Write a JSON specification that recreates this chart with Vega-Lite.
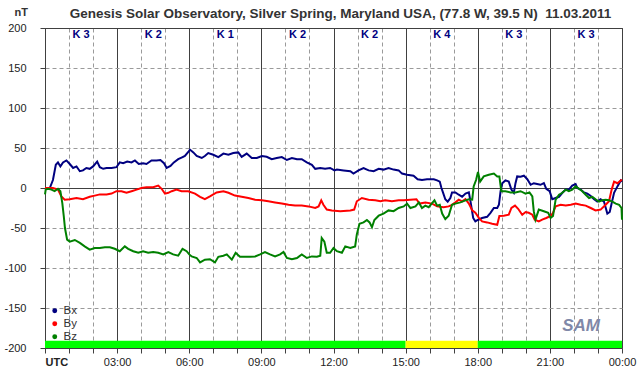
{
"$schema": "https://vega.github.io/schema/vega-lite/v6.json",
"width": 577, "height": 320,
"autosize": {"type": "none"},
"padding": {"left": 45, "top": 28, "right": 20, "bottom": 28},
"background": "white",
"config": {"view": {"stroke": "#404040", "strokeWidth": 1}, "font": "Liberation Sans",
"axisX": {"labelFontSize": 11, "labelColor": "#222222", "labelPadding": 3, "labelFlush": false, "labelOverlap": false, "labelBound": false, "grid": true, "domainColor": "#404040", "tickColor": "#404040", "tickSize": 5},
"axisY": {"labelFontSize": 11, "labelColor": "#222222", "labelPadding": 14, "labelOverlap": false, "grid": true, "domainColor": "#404040", "tickColor": "#404040", "tickSize": 5}},
"title": {"text": "Genesis Solar Observatory, Silver Spring, Maryland USA, (77.8 W, 39.5 N)\u00a0 11.03.2011", "fontSize": 13.5, "fontWeight": "bold", "color": "#333333", "anchor": "middle", "frame": "group", "offset": 9, "dy": 23, "dx": 7},
"datasets": {
"bars": [{"t": 0, "t2": 15, "k": "ok"}, {"t": 15, "t2": 18, "k": "warn"}, {"t": 18, "t2": 24, "k": "ok"}],
"klab": [{"t": 1.5, "k": "K 3"}, {"t": 4.5, "k": "K 2"}, {"t": 7.5, "k": "K 1"}, {"t": 10.5, "k": "K 2"}, {"t": 13.5, "k": "K 2"}, {"t": 16.5, "k": "K 4"}, {"t": 19.5, "k": "K 3"}, {"t": 22.5, "k": "K 3"}],
"mag": [
{"c":"Bx","t":0,"v":0},{"c":"Bx","t":0.2,"v":0},{"c":"Bx","t":0.33,"v":10},{"c":"Bx","t":0.45,"v":29},{"c":"Bx","t":0.54,"v":32},{"c":"Bx","t":0.64,"v":27},{"c":"Bx","t":0.75,"v":32},{"c":"Bx","t":0.89,"v":34.5},{"c":"Bx","t":1.03,"v":30},{"c":"Bx","t":1.17,"v":25},{"c":"Bx","t":1.31,"v":27},{"c":"Bx","t":1.45,"v":21},{"c":"Bx","t":1.58,"v":22},{"c":"Bx","t":1.72,"v":25},{"c":"Bx","t":1.86,"v":24},{"c":"Bx","t":2.0,"v":27},{"c":"Bx","t":2.17,"v":33},{"c":"Bx","t":2.28,"v":26},{"c":"Bx","t":2.42,"v":24},{"c":"Bx","t":2.56,"v":25},{"c":"Bx","t":2.77,"v":25},{"c":"Bx","t":2.97,"v":26},{"c":"Bx","t":3.11,"v":32},{"c":"Bx","t":3.25,"v":31},{"c":"Bx","t":3.42,"v":33},{"c":"Bx","t":3.6,"v":32},{"c":"Bx","t":3.74,"v":34.5},{"c":"Bx","t":3.9,"v":30},{"c":"Bx","t":4.08,"v":31},{"c":"Bx","t":4.22,"v":30},{"c":"Bx","t":4.43,"v":34.5},{"c":"Bx","t":4.64,"v":34.5},{"c":"Bx","t":4.8,"v":35},{"c":"Bx","t":4.95,"v":31},{"c":"Bx","t":5.06,"v":25},{"c":"Bx","t":5.22,"v":27.5},{"c":"Bx","t":5.36,"v":32},{"c":"Bx","t":5.54,"v":36},{"c":"Bx","t":5.68,"v":38},{"c":"Bx","t":5.82,"v":40},{"c":"Bx","t":5.96,"v":45},{"c":"Bx","t":6.03,"v":48},{"c":"Bx","t":6.17,"v":44.5},{"c":"Bx","t":6.31,"v":40},{"c":"Bx","t":6.52,"v":37.5},{"c":"Bx","t":6.65,"v":40},{"c":"Bx","t":6.79,"v":43.7},{"c":"Bx","t":7.0,"v":41.6},{"c":"Bx","t":7.21,"v":38.7},{"c":"Bx","t":7.42,"v":43},{"c":"Bx","t":7.63,"v":41.6},{"c":"Bx","t":7.83,"v":43.7},{"c":"Bx","t":8.04,"v":44.5},{"c":"Bx","t":8.18,"v":39},{"c":"Bx","t":8.39,"v":43},{"c":"Bx","t":8.6,"v":37.5},{"c":"Bx","t":8.81,"v":37.5},{"c":"Bx","t":9.02,"v":40},{"c":"Bx","t":9.22,"v":39},{"c":"Bx","t":9.43,"v":36},{"c":"Bx","t":9.64,"v":37.5},{"c":"Bx","t":9.85,"v":38.7},{"c":"Bx","t":10.06,"v":35},{"c":"Bx","t":10.27,"v":37.5},{"c":"Bx","t":10.48,"v":36},{"c":"Bx","t":10.68,"v":36},{"c":"Bx","t":10.89,"v":32},{"c":"Bx","t":11.1,"v":29},{"c":"Bx","t":11.24,"v":24},{"c":"Bx","t":11.45,"v":25},{"c":"Bx","t":11.65,"v":24},{"c":"Bx","t":11.86,"v":25},{"c":"Bx","t":12.04,"v":22},{"c":"Bx","t":12.14,"v":23},{"c":"Bx","t":12.42,"v":22},{"c":"Bx","t":12.7,"v":21},{"c":"Bx","t":12.83,"v":18},{"c":"Bx","t":13.04,"v":22},{"c":"Bx","t":13.25,"v":25},{"c":"Bx","t":13.46,"v":22},{"c":"Bx","t":13.67,"v":21},{"c":"Bx","t":13.88,"v":24},{"c":"Bx","t":14.08,"v":23},{"c":"Bx","t":14.29,"v":25},{"c":"Bx","t":14.5,"v":23},{"c":"Bx","t":14.71,"v":22},{"c":"Bx","t":14.85,"v":18},{"c":"Bx","t":15.06,"v":16.6},{"c":"Bx","t":15.33,"v":15.4},{"c":"Bx","t":15.5,"v":11},{"c":"Bx","t":15.68,"v":10},{"c":"Bx","t":15.89,"v":11},{"c":"Bx","t":16.17,"v":11},{"c":"Bx","t":16.31,"v":9.5},{"c":"Bx","t":16.42,"v":8},{"c":"Bx","t":16.49,"v":0},{"c":"Bx","t":16.56,"v":-6},{"c":"Bx","t":16.65,"v":-14},{"c":"Bx","t":16.75,"v":-17},{"c":"Bx","t":16.86,"v":-12.5},{"c":"Bx","t":16.93,"v":-5.5},{"c":"Bx","t":17.07,"v":-5.5},{"c":"Bx","t":17.21,"v":-8.4},{"c":"Bx","t":17.35,"v":-11},{"c":"Bx","t":17.49,"v":-7},{"c":"Bx","t":17.63,"v":-5.5},{"c":"Bx","t":17.7,"v":-17},{"c":"Bx","t":17.81,"v":-37.5},{"c":"Bx","t":17.9,"v":-41.7},{"c":"Bx","t":18.0,"v":-40},{"c":"Bx","t":18.18,"v":-37.5},{"c":"Bx","t":18.39,"v":-36},{"c":"Bx","t":18.53,"v":-31},{"c":"Bx","t":18.67,"v":-25},{"c":"Bx","t":18.81,"v":-25},{"c":"Bx","t":18.88,"v":-21},{"c":"Bx","t":18.95,"v":-4},{"c":"Bx","t":19.02,"v":6},{"c":"Bx","t":19.15,"v":9.5},{"c":"Bx","t":19.29,"v":8},{"c":"Bx","t":19.4,"v":-2},{"c":"Bx","t":19.5,"v":-6},{"c":"Bx","t":19.57,"v":6},{"c":"Bx","t":19.64,"v":14.5},{"c":"Bx","t":19.78,"v":14},{"c":"Bx","t":19.92,"v":15.4},{"c":"Bx","t":20.06,"v":11},{"c":"Bx","t":20.2,"v":4},{"c":"Bx","t":20.33,"v":6},{"c":"Bx","t":20.47,"v":5},{"c":"Bx","t":20.61,"v":4},{"c":"Bx","t":20.75,"v":6},{"c":"Bx","t":20.85,"v":-1},{"c":"Bx","t":20.99,"v":-4},{"c":"Bx","t":21.1,"v":-14},{"c":"Bx","t":21.24,"v":-12.5},{"c":"Bx","t":21.38,"v":-11},{"c":"Bx","t":21.52,"v":-6},{"c":"Bx","t":21.66,"v":-2},{"c":"Bx","t":21.79,"v":-2},{"c":"Bx","t":21.93,"v":3},{"c":"Bx","t":22.07,"v":5},{"c":"Bx","t":22.14,"v":0},{"c":"Bx","t":22.28,"v":-2},{"c":"Bx","t":22.42,"v":-5.5},{"c":"Bx","t":22.56,"v":-7},{"c":"Bx","t":22.7,"v":-10},{"c":"Bx","t":22.84,"v":-14},{"c":"Bx","t":22.97,"v":-17},{"c":"Bx","t":23.11,"v":-14},{"c":"Bx","t":23.25,"v":-17},{"c":"Bx","t":23.39,"v":-32},{"c":"Bx","t":23.49,"v":-30},{"c":"Bx","t":23.57,"v":-19},{"c":"Bx","t":23.67,"v":-6},{"c":"Bx","t":23.81,"v":2},{"c":"Bx","t":23.95,"v":9.5},{"c":"Bx","t":24.0,"v":8},
{"c":"By","t":0,"v":0},{"c":"By","t":0.33,"v":0},{"c":"By","t":0.54,"v":-2},{"c":"By","t":0.68,"v":-10.5},{"c":"By","t":0.82,"v":-14.6},{"c":"By","t":1.03,"v":-14},{"c":"By","t":1.31,"v":-12.5},{"c":"By","t":1.58,"v":-14},{"c":"By","t":1.86,"v":-11},{"c":"By","t":2.07,"v":-9.5},{"c":"By","t":2.28,"v":-8},{"c":"By","t":2.56,"v":-8},{"c":"By","t":2.77,"v":-7},{"c":"By","t":2.97,"v":-4},{"c":"By","t":3.18,"v":-4},{"c":"By","t":3.39,"v":-6},{"c":"By","t":3.6,"v":-4},{"c":"By","t":3.81,"v":-2},{"c":"By","t":4.01,"v":0},{"c":"By","t":4.22,"v":1},{"c":"By","t":4.5,"v":1},{"c":"By","t":4.71,"v":3},{"c":"By","t":4.85,"v":-1},{"c":"By","t":4.99,"v":-7},{"c":"By","t":5.13,"v":-6},{"c":"By","t":5.27,"v":-4},{"c":"By","t":5.47,"v":-2},{"c":"By","t":5.68,"v":-4},{"c":"By","t":5.96,"v":-4},{"c":"By","t":6.24,"v":-7},{"c":"By","t":6.45,"v":-11},{"c":"By","t":6.65,"v":-14},{"c":"By","t":6.86,"v":-10.5},{"c":"By","t":7.14,"v":-5.5},{"c":"By","t":7.42,"v":-4},{"c":"By","t":7.63,"v":-6},{"c":"By","t":7.9,"v":-9.5},{"c":"By","t":8.18,"v":-11},{"c":"By","t":8.46,"v":-12.5},{"c":"By","t":8.74,"v":-14.6},{"c":"By","t":9.02,"v":-15.4},{"c":"By","t":9.29,"v":-16.6},{"c":"By","t":9.57,"v":-18},{"c":"By","t":9.85,"v":-19.5},{"c":"By","t":10.13,"v":-21},{"c":"By","t":10.4,"v":-22},{"c":"By","t":10.68,"v":-22},{"c":"By","t":10.96,"v":-23},{"c":"By","t":11.24,"v":-25},{"c":"By","t":11.38,"v":-23},{"c":"By","t":11.49,"v":-15.4},{"c":"By","t":11.58,"v":-21},{"c":"By","t":11.72,"v":-27},{"c":"By","t":11.93,"v":-28},{"c":"By","t":12.28,"v":-29},{"c":"By","t":12.7,"v":-28},{"c":"By","t":12.86,"v":-27},{"c":"By","t":12.97,"v":-16.6},{"c":"By","t":13.18,"v":-12.5},{"c":"By","t":13.46,"v":-14.6},{"c":"By","t":13.74,"v":-15.4},{"c":"By","t":13.95,"v":-16.6},{"c":"By","t":14.15,"v":-15.4},{"c":"By","t":14.43,"v":-16.6},{"c":"By","t":14.71,"v":-15.4},{"c":"By","t":14.92,"v":-15.4},{"c":"By","t":15.2,"v":-14.6},{"c":"By","t":15.45,"v":-14},{"c":"By","t":15.58,"v":-19.5},{"c":"By","t":15.82,"v":-18},{"c":"By","t":16.1,"v":-19.5},{"c":"By","t":16.31,"v":-23},{"c":"By","t":16.58,"v":-24},{"c":"By","t":16.79,"v":-23},{"c":"By","t":16.93,"v":-21},{"c":"By","t":17.07,"v":-18},{"c":"By","t":17.21,"v":-14.6},{"c":"By","t":17.35,"v":-16.6},{"c":"By","t":17.49,"v":-14},{"c":"By","t":17.63,"v":-19.5},{"c":"By","t":17.77,"v":-28},{"c":"By","t":17.9,"v":-31},{"c":"By","t":18.04,"v":-37},{"c":"By","t":18.18,"v":-41.7},{"c":"By","t":18.39,"v":-43},{"c":"By","t":18.6,"v":-44.6},{"c":"By","t":18.81,"v":-46},{"c":"By","t":18.9,"v":-35},{"c":"By","t":19.08,"v":-34.6},{"c":"By","t":19.29,"v":-33.4},{"c":"By","t":19.4,"v":-25},{"c":"By","t":19.55,"v":-22},{"c":"By","t":19.68,"v":-26},{"c":"By","t":19.85,"v":-33.4},{"c":"By","t":19.99,"v":-30},{"c":"By","t":20.12,"v":-31},{"c":"By","t":20.27,"v":-33.4},{"c":"By","t":20.37,"v":-39.6},{"c":"By","t":20.54,"v":-41.7},{"c":"By","t":20.68,"v":-39.6},{"c":"By","t":20.85,"v":-37.5},{"c":"By","t":21.03,"v":-35},{"c":"By","t":21.13,"v":-31},{"c":"By","t":21.24,"v":-23},{"c":"By","t":21.45,"v":-21},{"c":"By","t":21.66,"v":-22},{"c":"By","t":21.87,"v":-21},{"c":"By","t":22.07,"v":-19.5},{"c":"By","t":22.28,"v":-21},{"c":"By","t":22.49,"v":-22},{"c":"By","t":22.7,"v":-25},{"c":"By","t":22.9,"v":-28},{"c":"By","t":23.11,"v":-27},{"c":"By","t":23.32,"v":-21},{"c":"By","t":23.46,"v":-16.6},{"c":"By","t":23.57,"v":-2},{"c":"By","t":23.67,"v":8},{"c":"By","t":23.81,"v":6},{"c":"By","t":23.95,"v":9.5},{"c":"By","t":24.0,"v":10},
{"c":"Bz","t":0,"v":-8},{"c":"Bz","t":0.03,"v":-2},{"c":"Bz","t":0.13,"v":-1},{"c":"Bz","t":0.27,"v":-2},{"c":"Bz","t":0.4,"v":-4},{"c":"Bz","t":0.54,"v":-1},{"c":"Bz","t":0.64,"v":-4},{"c":"Bz","t":0.72,"v":-19},{"c":"Bz","t":0.78,"v":-35},{"c":"Bz","t":0.83,"v":-50},{"c":"Bz","t":0.92,"v":-64.6},{"c":"Bz","t":1.03,"v":-67},{"c":"Bz","t":1.24,"v":-65},{"c":"Bz","t":1.45,"v":-68.7},{"c":"Bz","t":1.65,"v":-73},{"c":"Bz","t":1.86,"v":-77},{"c":"Bz","t":2.07,"v":-75},{"c":"Bz","t":2.28,"v":-75},{"c":"Bz","t":2.49,"v":-74},{"c":"Bz","t":2.7,"v":-74},{"c":"Bz","t":2.9,"v":-76},{"c":"Bz","t":3.11,"v":-79},{"c":"Bz","t":3.32,"v":-73},{"c":"Bz","t":3.46,"v":-76},{"c":"Bz","t":3.67,"v":-79},{"c":"Bz","t":3.88,"v":-81},{"c":"Bz","t":4.08,"v":-79},{"c":"Bz","t":4.29,"v":-81},{"c":"Bz","t":4.5,"v":-80},{"c":"Bz","t":4.71,"v":-81},{"c":"Bz","t":4.92,"v":-83},{"c":"Bz","t":5.13,"v":-80},{"c":"Bz","t":5.33,"v":-83},{"c":"Bz","t":5.54,"v":-84.6},{"c":"Bz","t":5.72,"v":-76},{"c":"Bz","t":5.89,"v":-79},{"c":"Bz","t":6.0,"v":-83},{"c":"Bz","t":6.1,"v":-85.5},{"c":"Bz","t":6.31,"v":-87.5},{"c":"Bz","t":6.45,"v":-93},{"c":"Bz","t":6.65,"v":-89.6},{"c":"Bz","t":6.86,"v":-89},{"c":"Bz","t":7.07,"v":-93},{"c":"Bz","t":7.21,"v":-86},{"c":"Bz","t":7.42,"v":-84.6},{"c":"Bz","t":7.56,"v":-83},{"c":"Bz","t":7.77,"v":-89.6},{"c":"Bz","t":7.93,"v":-81},{"c":"Bz","t":8.11,"v":-86},{"c":"Bz","t":8.32,"v":-86},{"c":"Bz","t":8.53,"v":-86},{"c":"Bz","t":8.74,"v":-85.5},{"c":"Bz","t":8.95,"v":-83},{"c":"Bz","t":9.15,"v":-80},{"c":"Bz","t":9.36,"v":-83},{"c":"Bz","t":9.57,"v":-85.5},{"c":"Bz","t":9.78,"v":-83},{"c":"Bz","t":9.92,"v":-80},{"c":"Bz","t":10.06,"v":-87.5},{"c":"Bz","t":10.27,"v":-89},{"c":"Bz","t":10.48,"v":-87.5},{"c":"Bz","t":10.68,"v":-83},{"c":"Bz","t":10.89,"v":-87.5},{"c":"Bz","t":11.1,"v":-85.5},{"c":"Bz","t":11.31,"v":-86},{"c":"Bz","t":11.45,"v":-84.6},{"c":"Bz","t":11.51,"v":-62.5},{"c":"Bz","t":11.62,"v":-67},{"c":"Bz","t":11.72,"v":-81},{"c":"Bz","t":11.86,"v":-81},{"c":"Bz","t":12.0,"v":-75},{"c":"Bz","t":12.14,"v":-79},{"c":"Bz","t":12.35,"v":-81},{"c":"Bz","t":12.49,"v":-73},{"c":"Bz","t":12.7,"v":-75},{"c":"Bz","t":12.9,"v":-73},{"c":"Bz","t":12.97,"v":-58},{"c":"Bz","t":13.08,"v":-44.6},{"c":"Bz","t":13.25,"v":-43},{"c":"Bz","t":13.39,"v":-40},{"c":"Bz","t":13.5,"v":-43},{"c":"Bz","t":13.6,"v":-49},{"c":"Bz","t":13.7,"v":-40},{"c":"Bz","t":13.88,"v":-34.6},{"c":"Bz","t":14.08,"v":-32},{"c":"Bz","t":14.29,"v":-28},{"c":"Bz","t":14.5,"v":-29},{"c":"Bz","t":14.71,"v":-25},{"c":"Bz","t":14.92,"v":-23},{"c":"Bz","t":15.06,"v":-19.5},{"c":"Bz","t":15.2,"v":-25},{"c":"Bz","t":15.41,"v":-23},{"c":"Bz","t":15.55,"v":-18},{"c":"Bz","t":15.68,"v":-25},{"c":"Bz","t":15.82,"v":-22},{"c":"Bz","t":15.96,"v":-24},{"c":"Bz","t":16.1,"v":-19},{"c":"Bz","t":16.2,"v":-15.4},{"c":"Bz","t":16.31,"v":-22},{"c":"Bz","t":16.42,"v":-21},{"c":"Bz","t":16.52,"v":-32},{"c":"Bz","t":16.65,"v":-39},{"c":"Bz","t":16.79,"v":-34.6},{"c":"Bz","t":16.93,"v":-21},{"c":"Bz","t":17.07,"v":-19.5},{"c":"Bz","t":17.28,"v":-18},{"c":"Bz","t":17.49,"v":-15.4},{"c":"Bz","t":17.63,"v":-14},{"c":"Bz","t":17.77,"v":-14.6},{"c":"Bz","t":17.83,"v":2},{"c":"Bz","t":17.93,"v":10},{"c":"Bz","t":18.01,"v":20},{"c":"Bz","t":18.1,"v":8},{"c":"Bz","t":18.25,"v":14.5},{"c":"Bz","t":18.46,"v":16.6},{"c":"Bz","t":18.67,"v":18},{"c":"Bz","t":18.81,"v":14.5},{"c":"Bz","t":18.9,"v":14.5},{"c":"Bz","t":18.98,"v":-4},{"c":"Bz","t":19.15,"v":-4},{"c":"Bz","t":19.36,"v":-5.5},{"c":"Bz","t":19.57,"v":-5.5},{"c":"Bz","t":19.78,"v":-4},{"c":"Bz","t":19.99,"v":-7},{"c":"Bz","t":20.15,"v":-5.5},{"c":"Bz","t":20.27,"v":-10.5},{"c":"Bz","t":20.33,"v":-29},{"c":"Bz","t":20.4,"v":-39.6},{"c":"Bz","t":20.54,"v":-27},{"c":"Bz","t":20.75,"v":-29},{"c":"Bz","t":20.93,"v":-31},{"c":"Bz","t":21.03,"v":-37.5},{"c":"Bz","t":21.13,"v":-35},{"c":"Bz","t":21.24,"v":-14.6},{"c":"Bz","t":21.38,"v":-8.4},{"c":"Bz","t":21.52,"v":-6},{"c":"Bz","t":21.66,"v":-2},{"c":"Bz","t":21.79,"v":-4},{"c":"Bz","t":21.93,"v":-2},{"c":"Bz","t":22.07,"v":2},{"c":"Bz","t":22.21,"v":-1},{"c":"Bz","t":22.35,"v":-4},{"c":"Bz","t":22.49,"v":-8.4},{"c":"Bz","t":22.63,"v":-12.5},{"c":"Bz","t":22.77,"v":-11},{"c":"Bz","t":22.9,"v":-14},{"c":"Bz","t":23.04,"v":-17},{"c":"Bz","t":23.18,"v":-15.4},{"c":"Bz","t":23.32,"v":-14.6},{"c":"Bz","t":23.46,"v":-15.4},{"c":"Bz","t":23.6,"v":-17},{"c":"Bz","t":23.74,"v":-19.5},{"c":"Bz","t":23.88,"v":-21},{"c":"Bz","t":23.98,"v":-25},{"c":"Bz","t":24.0,"v":-39.6}
]
},
"layer": [
{
"data": {"name": "bars"},
"mark": {"type": "rect"},
"encoding": {
"x": {"field": "t", "type": "quantitative", "scale": {"domain": [0, 24], "nice": false, "zero": false},
"axis": {"values": [0,1,2,3,4,5,6,7,8,9,10,11,12,13,14,15,16,17,18,19,20,21,22,23,24], "labelExpr": "datum.value == 0 ? 'UTC' : (datum.value % 3 == 0 ? (datum.value == 24 ? '00:00' : (datum.value < 10 ? '0' : '') + datum.value + ':00') : '')", "labelAlign": {"condition": {"test": "datum.value == 0", "value": "left"}, "value": "center"}, "labelFontWeight": {"condition": {"test": "datum.value == 0", "value": "bold"}, "value": "normal"}, "gridColor": {"condition": {"test": "datum.value % 3 == 0", "value": "#404040"}, "value": "#9a9a9a"}, "gridDash": {"condition": {"test": "datum.value % 3 == 0", "value": []}, "value": [4, 3]}, "title": ""}},
"x2": {"field": "t2"},
"y": {"datum": -191, "type": "quantitative", "scale": {"domain": [-200, 200], "nice": false},
"axis": {"values": [-200,-150,-100,-50,0,50,100,150,200], "labelExpr": "'' + datum.value", "gridColor": {"condition": {"test": "datum.value == 0 || datum.value == 200", "value": "#404040"}, "value": "#9a9a9a"}, "gridDash": {"condition": {"test": "datum.value == 0 || datum.value == 200", "value": []}, "value": [4, 3]}, "title": "nT", "titleAngle": 0, "titleX": -31, "titleY": -16, "titleAlign": "left", "titleBaseline": "middle", "titleFontWeight": "bold", "titleFontSize": 11, "titleColor": "#333333"}},
"y2": {"datum": -200},
"fill": {"field": "k", "type": "nominal", "scale": {"domain": ["ok", "warn"], "range": ["#00ff00", "#ffff00"]}, "legend": null}
}
},
{
"data": {"name": "mag"},
"mark": {"type": "line", "strokeWidth": 2, "interpolate": "linear"},
"encoding": {
"x": {"field": "t", "type": "quantitative", "scale": {"domain": [0, 24], "nice": false, "zero": false},
"axis": {"values": [0,1,2,3,4,5,6,7,8,9,10,11,12,13,14,15,16,17,18,19,20,21,22,23,24], "labelExpr": "datum.value == 0 ? 'UTC' : (datum.value % 3 == 0 ? (datum.value == 24 ? '00:00' : (datum.value < 10 ? '0' : '') + datum.value + ':00') : '')", "labelAlign": {"condition": {"test": "datum.value == 0", "value": "left"}, "value": "center"}, "labelFontWeight": {"condition": {"test": "datum.value == 0", "value": "bold"}, "value": "normal"}, "gridColor": {"condition": {"test": "datum.value % 3 == 0", "value": "#404040"}, "value": "#9a9a9a"}, "gridDash": {"condition": {"test": "datum.value % 3 == 0", "value": []}, "value": [4, 3]}, "title": ""}},
"y": {"field": "v", "type": "quantitative", "scale": {"domain": [-200, 200], "nice": false},
"axis": {"values": [-200,-150,-100,-50,0,50,100,150,200], "labelExpr": "'' + datum.value", "gridColor": {"condition": {"test": "datum.value == 0 || datum.value == 200", "value": "#404040"}, "value": "#9a9a9a"}, "gridDash": {"condition": {"test": "datum.value == 0 || datum.value == 200", "value": []}, "value": [4, 3]}, "title": "nT", "titleAngle": 0, "titleX": -31, "titleY": -16, "titleAlign": "left", "titleBaseline": "middle", "titleFontWeight": "bold", "titleFontSize": 11, "titleColor": "#333333"}},
"color": {"field": "c", "type": "nominal", "scale": {"domain": ["Bx", "By", "Bz"], "range": ["#000080", "#ff0000", "#008000"]},
"legend": {"orient": "none", "legendX": 4, "legendY": 277, "title": null, "padding": 0, "symbolType": "circle", "symbolSize": 6, "symbolStrokeWidth": 2.5, "labelFontSize": 11.5, "labelColor": "#333333", "rowPadding": 0, "labelOffset": 3}}
}
},
{
"data": {"name": "klab"},
"mark": {"type": "text", "fontWeight": "bold", "fontSize": 11, "color": "#000080", "baseline": "middle", "align": "center"},
"encoding": {
"x": {"field": "t", "type": "quantitative", "scale": {"domain": [0, 24], "nice": false, "zero": false},
"axis": {"values": [0,1,2,3,4,5,6,7,8,9,10,11,12,13,14,15,16,17,18,19,20,21,22,23,24], "labelExpr": "datum.value == 0 ? 'UTC' : (datum.value % 3 == 0 ? (datum.value == 24 ? '00:00' : (datum.value < 10 ? '0' : '') + datum.value + ':00') : '')", "labelAlign": {"condition": {"test": "datum.value == 0", "value": "left"}, "value": "center"}, "labelFontWeight": {"condition": {"test": "datum.value == 0", "value": "bold"}, "value": "normal"}, "gridColor": {"condition": {"test": "datum.value % 3 == 0", "value": "#404040"}, "value": "#9a9a9a"}, "gridDash": {"condition": {"test": "datum.value % 3 == 0", "value": []}, "value": [4, 3]}, "title": ""}},
"y": {"datum": 191, "type": "quantitative", "scale": {"domain": [-200, 200], "nice": false},
"axis": {"values": [-200,-150,-100,-50,0,50,100,150,200], "labelExpr": "'' + datum.value", "gridColor": {"condition": {"test": "datum.value == 0 || datum.value == 200", "value": "#404040"}, "value": "#9a9a9a"}, "gridDash": {"condition": {"test": "datum.value == 0 || datum.value == 200", "value": []}, "value": [4, 3]}, "title": "nT", "titleAngle": 0, "titleX": -31, "titleY": -16, "titleAlign": "left", "titleBaseline": "middle", "titleFontWeight": "bold", "titleFontSize": 11, "titleColor": "#333333"}},
"text": {"field": "k"}
}
},
{
"data": {"values": [{"logo": "SAM"}]},
"mark": {"type": "text", "fontWeight": "bold", "fontStyle": "italic", "fontSize": 17, "color": "#8088a8", "baseline": "middle", "align": "center"},
"encoding": {
"x": {"datum": 22.3, "type": "quantitative", "scale": {"domain": [0, 24], "nice": false, "zero": false},
"axis": {"values": [0,1,2,3,4,5,6,7,8,9,10,11,12,13,14,15,16,17,18,19,20,21,22,23,24], "labelExpr": "datum.value == 0 ? 'UTC' : (datum.value % 3 == 0 ? (datum.value == 24 ? '00:00' : (datum.value < 10 ? '0' : '') + datum.value + ':00') : '')", "labelAlign": {"condition": {"test": "datum.value == 0", "value": "left"}, "value": "center"}, "labelFontWeight": {"condition": {"test": "datum.value == 0", "value": "bold"}, "value": "normal"}, "gridColor": {"condition": {"test": "datum.value % 3 == 0", "value": "#404040"}, "value": "#9a9a9a"}, "gridDash": {"condition": {"test": "datum.value % 3 == 0", "value": []}, "value": [4, 3]}, "title": ""}},
"y": {"datum": -172, "type": "quantitative", "scale": {"domain": [-200, 200], "nice": false},
"axis": {"values": [-200,-150,-100,-50,0,50,100,150,200], "labelExpr": "'' + datum.value", "gridColor": {"condition": {"test": "datum.value == 0 || datum.value == 200", "value": "#404040"}, "value": "#9a9a9a"}, "gridDash": {"condition": {"test": "datum.value == 0 || datum.value == 200", "value": []}, "value": [4, 3]}, "title": "nT", "titleAngle": 0, "titleX": -31, "titleY": -16, "titleAlign": "left", "titleBaseline": "middle", "titleFontWeight": "bold", "titleFontSize": 11, "titleColor": "#333333"}},
"text": {"field": "logo"}
}
}
]
}
